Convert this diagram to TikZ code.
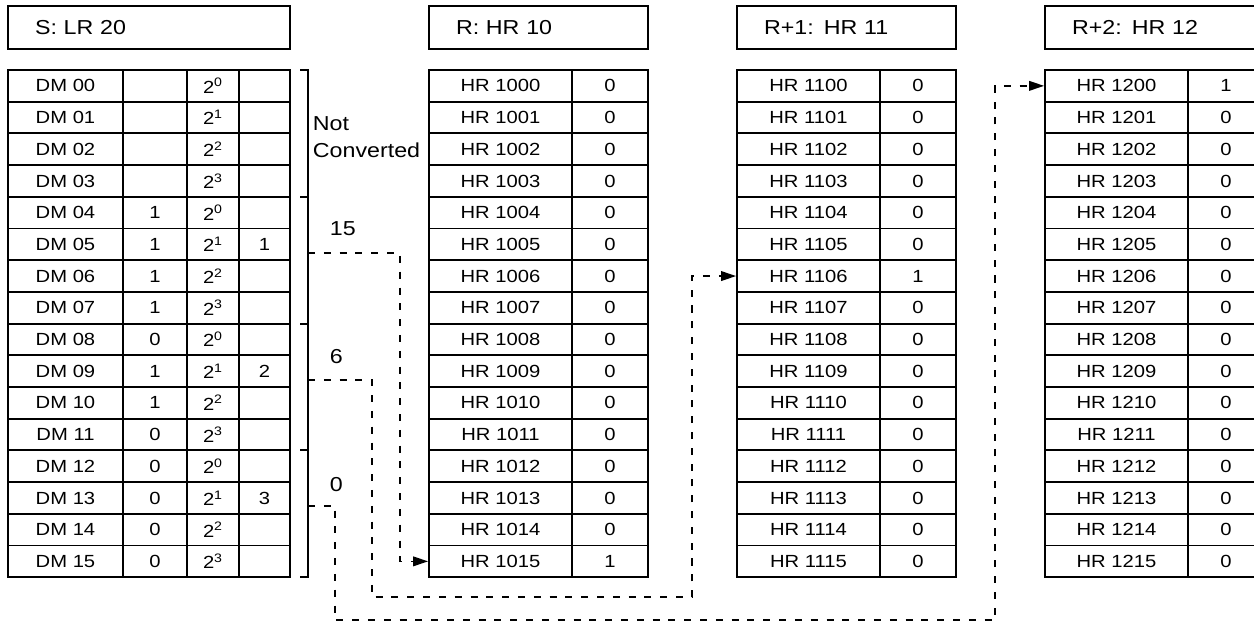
\documentclass[tikz,border=0pt]{standalone}
\usepackage{fontspec}
\setmainfont{Liberation Sans}[FakeStretch=1.15]
\usepackage{tikz}
\usetikzlibrary{arrows.meta}
\newcommand\cellfont{\fontsize{10}{12}\selectfont}
\newcommand\headfont{\fontsize{11.5}{14}\selectfont}
\begin{document}
\begin{tikzpicture}[x=0.02cm,y=-0.02cm,line width=1.1pt,
  cell/.style={draw,inner sep=0pt,minimum height=0.634cm,font=\cellfont},
  head/.style={draw,minimum height=0.86cm,align=left,inner xsep=0.54cm,font=\headfont},
  lbl/.style={anchor=west,inner sep=0pt,font=\headfont},
  dline/.style={line width=0.9pt,dash pattern=on 4pt off 5pt,-{Triangle[length=8.5pt,width=5.5pt]}}]
\useasboundingbox(0,0)rectangle(1254,623);
\clip(0,0)rectangle(1254,623);
% headers
\node[head,text width=4.56cm](src)at(149,27.5){S: LR 20};
\node[head,text width=3.3cm](hda)at(538.5,27.5){R: HR 10};
\node[head,text width=3.3cm](hdb)at(846.5,27.5){R+1: HR 11};
\node[head,text width=3.3cm](hdc)at(1154.5,27.5){R+2: HR 12};
% source words
\foreach \i/\b/\d in {0/{}/{},1/{}/{},2/{}/{},3/{}/{},4/1/{},5/1/1,6/1/{},7/1/{},
  8/0/{},9/1/2,10/1/{},11/0/{},12/0/{},13/0/3,14/0/{},15/0/{}}{
  \pgfmathsetmacro\y{85.85+31.7*\i}
  \pgfmathtruncatemacro\e{mod(\i,4)}
  \node[cell,minimum width=2.3cm](dmn\i)at(65.5,\y){DM \ifnum\i<10 0\fi\i};
  \node[cell,minimum width=1.28cm](dmb\i)at(155,\y){\b};
  \node[cell,minimum width=1.04cm](dme\i)at(213,\y){2\textsuperscript{\e}};
  \node[cell,minimum width=1.02cm](dmd\i)at(264.5,\y){\d};
}
% result words
\foreach \t/\x/\k/\one in {a/429/0/15,b/737/1/6,c/1045/2/0}{
  \foreach \i in {0,...,15}{
    \pgfmathsetmacro\y{85.85+31.7*\i}
    \node[cell,minimum width=2.86cm](hr\t\i)at(\x+71.5,\y){HR 1\k\ifnum\i<10 0\fi\i};
    \node[cell,minimum width=1.52cm](hv\t\i)at(\x+181,\y){\ifnum\i=\one\relax 1\else 0\fi};
  }
}
% bracket
\draw(300,70)--(308,70)--(308,577.2)--(300,577.2);
\foreach \y in {196.8,323.6,450.4}\draw(300,\y)--(308,\y);
\coordinate(t15)at(308,253);
\coordinate(t6)at(308,380);
\coordinate(t0)at(308,506);
\node[lbl](nc1)at(312,123.5){Not};
\node[lbl](nc2)at(312,150){Converted};
\node[lbl](v15)at(329,229){15};
\node[lbl](v6)at(329,357){6};
\node[lbl](v0)at(329,485){0};
% digits to words
\coordinate(b6)at(372,597);
\coordinate(b0)at(335,620);
\draw[dline](t15)--++(92,0)|-(hra15.west);
\draw[dline](t6)-|(b6)--++(320,0)|-(hrb6.west);
\draw[dline](t0)-|(b0)--++(660,0)|-(hrc0.west);
\end{tikzpicture}
\end{document}
